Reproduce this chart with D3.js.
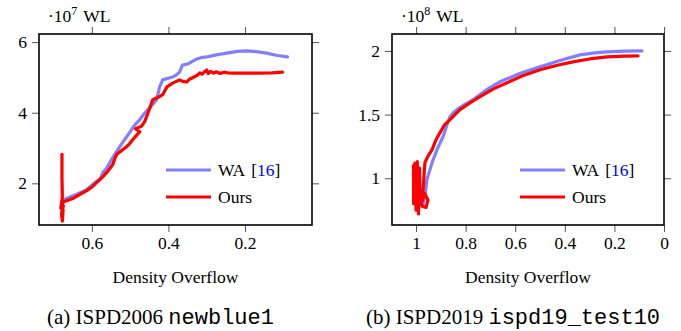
<!DOCTYPE html>
<html><head><meta charset="utf-8">
<script src="https://cdn.jsdelivr.net/npm/d3@7"></script>
<style>
body{margin:0;background:#fff;}
svg{display:block;font-family:"Liberation Serif","Times New Roman",serif;}
</style></head>
<body><svg id="c" width="681" height="331"></svg>
<script>
// ---------- data ----------
const waA = [[0.676,1.49],[0.670,1.55],[0.655,1.62],[0.639,1.69],[0.625,1.76],[0.613,1.83],[0.600,1.95],[0.587,2.06],[0.578,2.12],[0.571,2.31],[0.562,2.42],[0.553,2.59],[0.547,2.70],[0.540,2.82],[0.527,3.04],[0.518,3.18],[0.509,3.32],[0.500,3.46],[0.493,3.58],[0.484,3.70],[0.475,3.80],[0.465,3.95],[0.454,4.08],[0.440,4.25],[0.431,4.37],[0.428,4.50],[0.423,4.73],[0.418,4.85],[0.415,4.93],[0.400,4.98],[0.389,5.01],[0.378,5.08],[0.371,5.15],[0.366,5.28],[0.363,5.35],[0.350,5.38],[0.344,5.41],[0.335,5.47],[0.326,5.52],[0.315,5.56],[0.300,5.58],[0.275,5.64],[0.248,5.69],[0.220,5.74],[0.196,5.75],[0.170,5.73],[0.144,5.69],[0.115,5.62],[0.089,5.58]];
const oursA = [[0.678,2.82],[0.678,2.20],[0.677,1.60],[0.681,1.30],[0.676,1.50],[0.679,1.10],[0.677,0.93],[0.675,1.25],[0.680,1.40],[0.674,1.35],[0.678,1.45],[0.670,1.49],[0.650,1.57],[0.631,1.69],[0.612,1.80],[0.597,1.92],[0.588,2.02],[0.579,2.11],[0.570,2.20],[0.561,2.31],[0.553,2.42],[0.545,2.54],[0.540,2.70],[0.535,2.82],[0.520,2.95],[0.509,3.04],[0.500,3.14],[0.493,3.24],[0.484,3.35],[0.475,3.46],[0.486,3.55],[0.470,3.62],[0.462,3.75],[0.457,3.89],[0.449,4.12],[0.441,4.37],[0.428,4.43],[0.415,4.51],[0.404,4.73],[0.390,4.83],[0.371,4.93],[0.360,4.88],[0.352,4.87],[0.345,4.95],[0.337,4.99],[0.325,5.06],[0.318,5.13],[0.312,5.09],[0.305,5.17],[0.300,5.21],[0.296,5.11],[0.290,5.17],[0.282,5.12],[0.275,5.16],[0.265,5.11],[0.255,5.15],[0.245,5.13],[0.230,5.12],[0.210,5.12],[0.188,5.12],[0.160,5.12],[0.130,5.13],[0.102,5.15]];
const waB = [[0.972,0.797],[0.964,0.859],[0.956,0.992],[0.945,1.060],[0.935,1.125],[0.915,1.227],[0.900,1.290],[0.891,1.328],[0.875,1.420],[0.863,1.484],[0.850,1.515],[0.835,1.539],[0.800,1.585],[0.770,1.617],[0.720,1.690],[0.661,1.758],[0.580,1.825],[0.500,1.875],[0.420,1.925],[0.339,1.969],[0.280,1.985],[0.230,1.992],[0.160,1.998],[0.089,2.000]];
const oursB = [[1.010,1.100],[1.010,0.800],[1.005,1.120],[1.000,0.750],[0.995,1.130],[0.990,0.720],[0.986,1.080],[0.984,0.850],[0.975,0.780],[0.960,0.770],[0.952,0.830],[0.965,0.880],[0.975,0.820],[0.970,0.950],[0.967,1.050],[0.964,1.125],[0.950,1.180],[0.935,1.227],[0.920,1.300],[0.903,1.359],[0.885,1.420],[0.863,1.461],[0.823,1.539],[0.780,1.595],[0.742,1.641],[0.690,1.700],[0.633,1.750],[0.570,1.805],[0.500,1.852],[0.430,1.888],[0.367,1.914],[0.300,1.937],[0.230,1.953],[0.160,1.960],[0.105,1.961]];
const xTicksA = [0.6,0.4,0.2];
const yTicksA = [2,4,6];
const xTicksB = [1,0.8,0.6,0.4,0.2,0];
const yTicksB = [1,1.5,2];
const seriesNames = ["WA", "Ours"];
const citeLabel = "16";
const xTitle = "Density Overflow";
const captions = [["(a) ISPD2006 ","newblue1"],["(b) ISPD2019 ","ispd19_test10"]];
const exps = ["7","8"];

// ---------- drawing ----------
const svg = d3.select("#c");
const FS = 17.5;
const colors = {wa:"#8080ff", ours:"#ff0000"};

const panels = [
  {x0:39,x1:312,y0:34,y1:225, xd:[0.738,0.025], yd:[0.82,6.23], xt:xTicksA, yt:yTicksA, wa:waA, ours:oursA, exp:exps[0], cap:captions[0], legX:166},
  {x0:392,x1:664,y0:34,y1:225, xd:[1.097,0], yd:[0.633,2.133], xt:xTicksB, yt:yTicksB, wa:waB, ours:oursB, exp:exps[1], cap:captions[1], legX:520}
];

panels.forEach(p=>{
  const x = d3.scaleLinear().domain(p.xd).range([p.x0,p.x1]);
  const y = d3.scaleLinear().domain(p.yd).range([p.y1,p.y0]);
  const g = svg.append("g");
  const clipId = "clip"+p.x0;
  svg.append("clipPath").attr("id",clipId).append("rect")
    .attr("x",p.x0).attr("y",p.y0).attr("width",p.x1-p.x0).attr("height",p.y1-p.y0);

  const fmt = d=>String(d);
  const axStyle = sel=>{
    sel.attr("font-family",null);
    sel.select(".domain").remove();
    sel.selectAll(".tick line").attr("stroke","#555").attr("stroke-width",1);
    sel.selectAll(".tick text").attr("font-family","Liberation Serif").attr("font-size",FS).attr("fill","#000");
  };
  g.append("g").attr("transform",`translate(0,${p.y1})`)
    .call(d3.axisBottom(x).tickValues(p.xt).tickSize(7).tickPadding(5).tickFormat(fmt)).call(axStyle);
  g.append("g").attr("transform",`translate(0,${p.y0})`)
    .call(d3.axisTop(x).tickValues(p.xt).tickSize(7).tickFormat("")).call(axStyle);
  g.append("g").attr("transform",`translate(${p.x0},0)`)
    .call(d3.axisLeft(y).tickValues(p.yt).tickSize(7).tickPadding(5).tickFormat(fmt)).call(axStyle);
  g.append("g").attr("transform",`translate(${p.x1},0)`)
    .call(d3.axisRight(y).tickValues(p.yt).tickSize(7).tickFormat("")).call(axStyle);

  const line = d3.line().x(d=>x(d[0])).y(d=>y(d[1]));
  const lg = g.append("g").attr("clip-path",`url(#${clipId})`);
  lg.append("path").datum(p.wa).attr("d",line).attr("fill","none")
    .attr("stroke",colors.wa).attr("stroke-width",3.2).attr("stroke-linejoin","round").attr("stroke-linecap","round");
  lg.append("path").datum(p.ours).attr("d",line).attr("fill","none")
    .attr("stroke",colors.ours).attr("stroke-width",3.2).attr("stroke-linejoin","round").attr("stroke-linecap","round");

  g.append("rect").attr("x",p.x0).attr("y",p.y0).attr("width",p.x1-p.x0).attr("height",p.y1-p.y0)
    .attr("fill","none").attr("stroke","#000").attr("stroke-width",1.6);

  const t = g.append("text").attr("x",p.x0+9).attr("y",22).attr("font-size",FS);
  t.append("tspan").text("\u00b710");
  t.append("tspan").attr("dy",-7).attr("font-size",12).text(p.exp);
  t.append("tspan").attr("dy",7).attr("dx",6).text("WL");

  const legs = [{n:seriesNames[0],c:colors.wa,y:170,cite:true},{n:seriesNames[1],c:colors.ours,y:197,cite:false}];
  legs.forEach(L=>{
    g.append("line").attr("x1",p.legX).attr("x2",p.legX+45).attr("y1",L.y).attr("y2",L.y)
      .attr("stroke",L.c).attr("stroke-width",3.2);
    const tt = g.append("text").attr("x",p.legX+52).attr("y",L.y+6).attr("font-size",FS);
    tt.append("tspan").text(L.n);
    if(L.cite){
      tt.append("tspan").attr("dx",6).text("[");
      tt.append("tspan").attr("fill","#0000ff").text(citeLabel);
      tt.append("tspan").text("]");
    }
  });

  const cx = (p.x0+p.x1)/2;
  g.append("text").attr("x",cx).attr("y",283).attr("text-anchor","middle").attr("font-size",FS).text(xTitle);
  const ct = g.append("text").attr("x",cx-15).attr("y",324).attr("text-anchor","middle").attr("font-size",21);
  ct.append("tspan").text(p.cap[0]);
  ct.append("tspan").attr("font-family","Liberation Mono").attr("font-size",22).attr("font-weight",300).text(p.cap[1]);
});
</script></body></html>
